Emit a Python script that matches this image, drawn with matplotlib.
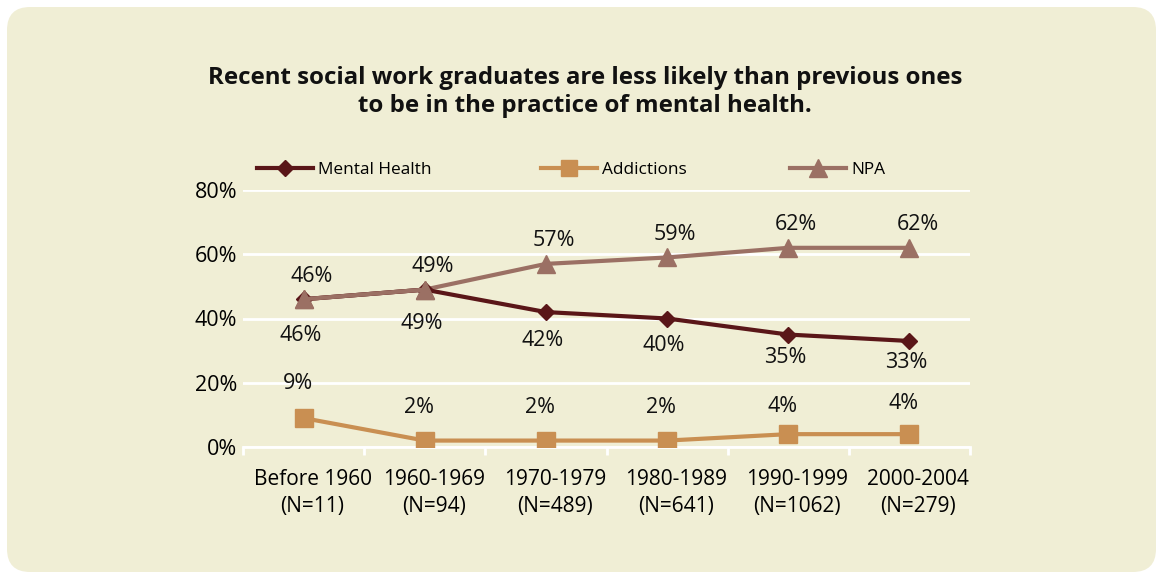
import matplotlib
matplotlib.use("Agg")
import matplotlib.pyplot as plt
from matplotlib.patches import FancyBboxPatch
from matplotlib.lines import Line2D
from matplotlib.transforms import ScaledTranslation

categories = ["Before 1960\n(N=11)", "1960-1969\n(N=94)", "1970-1979\n(N=489)",
              "1980-1989\n(N=641)", "1990-1999\n(N=1062)", "2000-2004\n(N=279)"]
mental_health = [46, 49, 42, 40, 35, 33]
addictions = [9, 2, 2, 2, 4, 4]
npa = [46, 49, 57, 59, 62, 62]
yticks = [0, 20, 40, 60, 80]

BG = "#f0eed5"
C_MH = "#5a1618"
C_ADD = "#c98f52"
C_NPA = "#9b7064"

# label offsets (pixels) as placed in the original
mh_dy = [36, 34, 28, 27, 23, 22]
add_dy = [35, 33, 33, 33, 28, 31]

plt.rcParams["font.family"] = ["Open Sans", "DejaVu Sans"]

fig = plt.figure(figsize=(11.56, 5.74), dpi=100)
fig.patch.set_facecolor("white")
W, H = 1156, 574
box = FancyBboxPatch((7 / W, 2 / H), (W - 7) / W, (H - 9) / H,
                     boxstyle="round,pad=0,rounding_size=0.02",
                     transform=fig.transFigure, facecolor=BG, edgecolor="none",
                     mutation_aspect=W / H, zorder=-5)
fig.patches.append(box)

ax = fig.add_axes([243 / W, 1 - 447 / H, (970 - 243) / W, (447 - 190) / H])
ax.set_facecolor("none")
ax.set_zorder(2)
x = list(range(len(categories)))

ax.plot(x, npa, color=C_NPA, lw=3, marker="^", ms=13.5, zorder=3)
ax.plot(x, mental_health, color=C_MH, lw=3, marker="D", ms=8, zorder=4)
ax.plot(x, addictions, color=C_ADD, lw=3, marker="s", ms=13, zorder=3)
# triangles on top at the first two points, as in the original
ax.plot(x[:2], npa[:2], color=C_NPA, lw=3, marker="^", ms=13.5, zorder=5)

px = 0.72  # points per pixel at 100 dpi
for i in x:
    ax.annotate(f"{npa[i]}%", (i, npa[i]), xytext=(8 * px, 23 * px),
                textcoords="offset points", ha="center", va="center",
                fontsize=15.5, color="#111111")
    ax.annotate(f"{mental_health[i]}%", (i, mental_health[i]),
                xytext=(-3 * px, -mh_dy[i] * px), textcoords="offset points",
                ha="center", va="center", fontsize=15.5, color="#111111")
    ax.annotate(f"{addictions[i]}%", (i, addictions[i]),
                xytext=(-6 * px, add_dy[i] * px), textcoords="offset points",
                ha="center", va="center", fontsize=15.5, color="#111111")

ax.set_xlim(-0.5, len(categories) - 0.5)
ax.set_ylim(0, 80)
ax.set_yticks(yticks)
ax.set_yticklabels([f"{v}%" for v in yticks], fontsize=15.5)
ax.grid(axis="y", color="white", lw=2)
ax.set_axisbelow(True)
for s in ["top", "right", "left"]:
    ax.spines[s].set_visible(False)
ax.spines["bottom"].set_color("white")
ax.spines["bottom"].set_linewidth(2)
ax.tick_params(axis="y", length=0, pad=4)
ax.set_xticks([i + 0.5 for i in [-1] + x], minor=False)
ax.set_xticklabels([])
ax.tick_params(axis="x", which="major", length=6, width=2, color="white", direction="out")
ax.set_xticks(x, minor=True)
ax.set_xticklabels(categories, minor=True, fontsize=15, linespacing=1.35)
ax.tick_params(axis="x", which="minor", length=0, pad=16)
shift = ScaledTranslation(9 / 100, 0, fig.dpi_scale_trans)
for lbl in ax.get_xticklabels(minor=True):
    lbl.set_transform(lbl.get_transform() + shift)

fig.text(0.506, 1 - 92 / H, "Recent social work graduates are less likely than previous ones\n"
         "to be in the practice of mental health.", ha="center", va="center",
         fontsize=17.3, fontweight="bold", linespacing=1.2, color="#111111")

items = [("Mental Health", C_MH, "D", 8, 257), ("Addictions", C_ADD, "s", 12, 541),
         ("NPA", C_NPA, "^", 13, 790)]
for label, col, mk, ms, lx in items:
    h = Line2D([], [], color=col, lw=3, marker=mk, ms=ms)
    leg = fig.legend(handles=[h], labels=[label], loc="center left",
                     bbox_to_anchor=(lx / W, 1 - 170 / H), frameon=False,
                     fontsize=12.4, handlelength=3.25, borderaxespad=0, borderpad=0,
                     handletextpad=0.3)

fig.savefig("out.png", dpi=100, facecolor="white")
